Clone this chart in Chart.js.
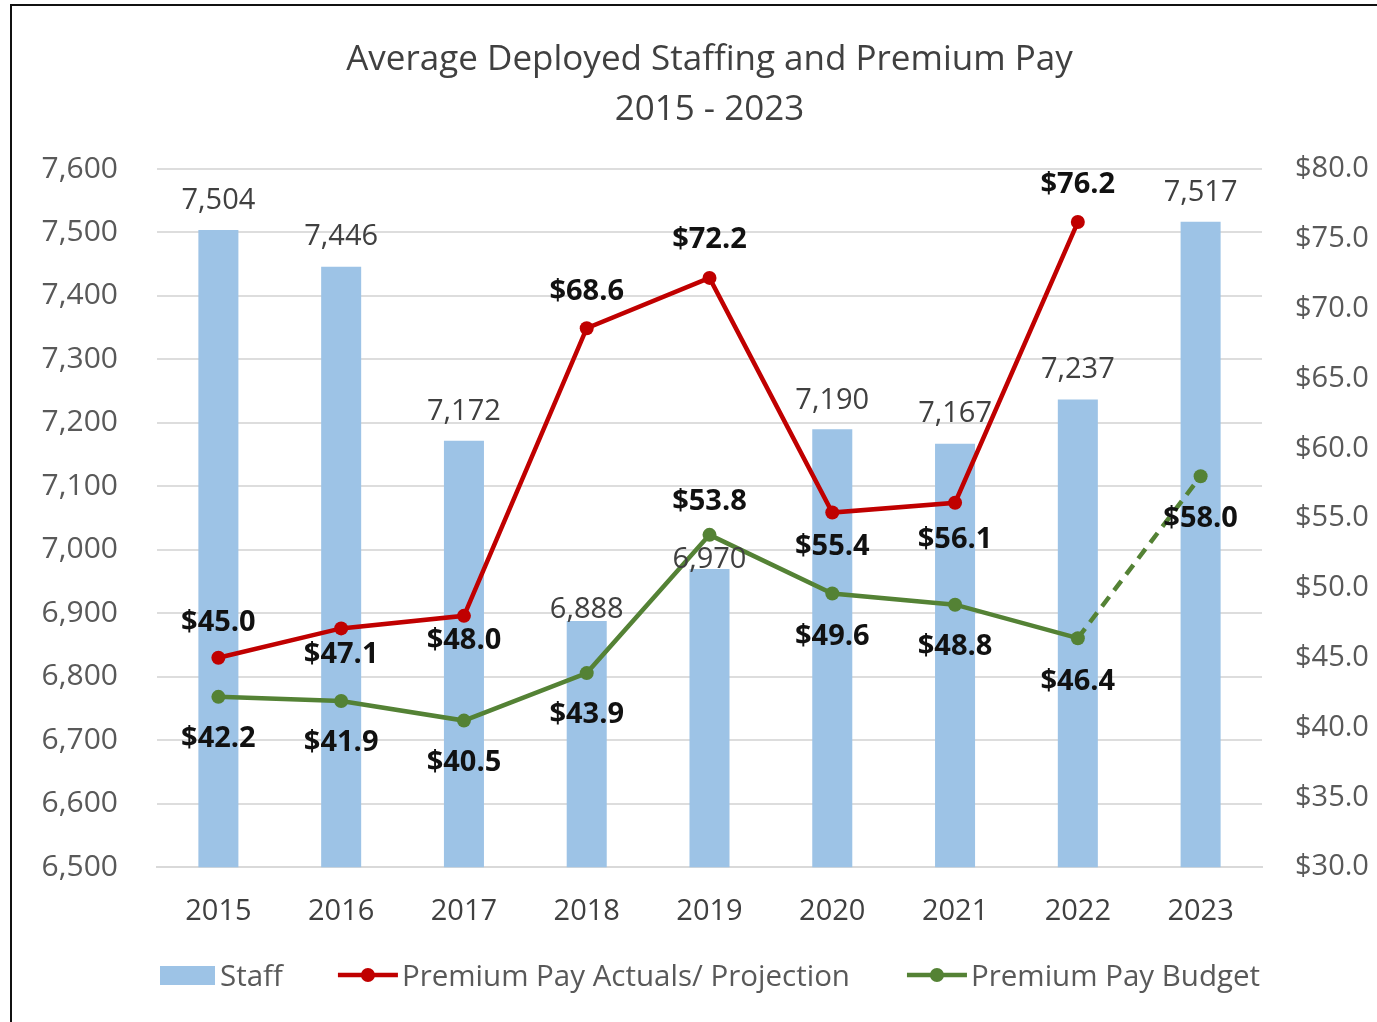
<!DOCTYPE html>
<html>
<head>
<meta charset="utf-8">
<title>Average Deployed Staffing and Premium Pay</title>
<script src="https://cdn.jsdelivr.net/npm/chart.js@4.4.0/dist/chart.umd.min.js"></script>
<style>
  html, body { margin: 0; padding: 0; background: #fff; overflow: hidden; }
  #wrap { position: relative; width: 1377px; height: 1022px; }
  #frame { position: absolute; left: 10px; top: 4px; width: 1400px; height: 1100px;
           border-left: 2px solid #111; border-top: 2px solid #111; }
  canvas { position: absolute; left: 0; top: 0; }
</style>
</head>
<body>
<div id="wrap">
  <canvas id="chart" width="1377" height="1022"></canvas>
  <div id="frame"></div>
</div>
<script>
// Data
const years = ['2015', '2016', '2017', '2018', '2019', '2020', '2021', '2022', '2023'];
const staff = [7504, 7446, 7172, 6888, 6970, 7190, 7167, 7237, 7517];
const premiumActuals = [45.0, 47.1, 48.0, 68.6, 72.2, 55.4, 56.1, 76.2, null];
const premiumBudget = [42.2, 41.9, 40.5, 43.9, 53.8, 49.6, 48.8, 46.4, 58.0];

// Axis ranges
const staffMin = 6500, staffMax = 7600, staffStep = 100;
const payMin = 30, payMax = 80, payStep = 5;

const FONT = "'Open Sans', 'Noto Sans', sans-serif";
const BLUE = '#9DC3E6';
const RED = '#C00000';
const GREEN = '#548235';

// label offsets (px, label centre relative to the mark) - matches hand-placed Excel labels
const staffLabelOffset = [-31, -32, -31, -13, -11, -31, -32, -32, -31];
const actualsLabelOffset = [-37, 24, 23, -39, -40, 32, 35, -39, 0];
const budgetLabelOffset = [40, 40, 40, 40, -35, 41, 40, 41, 40];

const fmtStaff = v => v.toLocaleString('en-US');
const fmtPay = v => '$' + v.toFixed(1);

// Draws value labels next to bars and points
const valueLabels = {
    id: 'valueLabels',
    afterDatasetsDraw(chart) {
        const ctx = chart.ctx;
        ctx.save();
        ctx.textAlign = 'center';
        ctx.textBaseline = 'alphabetic';
        chart.data.datasets.forEach((ds, i) => {
            const meta = chart.getDatasetMeta(i);
            ctx.font = ds.labelFont;
            ctx.fillStyle = ds.labelColor;
            meta.data.forEach((el, j) => {
                const v = ds.data[j];
                if (v == null) return;
                const cy = el.y + ds.labelOffsets[j];
                ctx.fillText(ds.labelFormat(v), el.x, cy + ds.labelSize * 0.357);
            });
        });
        ctx.restore();
    }
};

// Excel style legend row under the axis
const bottomLegend = {
    id: 'bottomLegend',
    afterDraw(chart) {
        const ctx = chart.ctx;
        const size = 29.5;
        const cy = 975;
        ctx.save();
        ctx.font = `${size}px ${FONT}`;
        ctx.fillStyle = '#595959';
        ctx.textBaseline = 'alphabetic';
        ctx.textAlign = 'left';
        let x = 160;

        ctx.fillStyle = BLUE;
        ctx.fillRect(x, cy - 9, 55, 19);
        x += 60;
        ctx.fillStyle = '#595959';
        ctx.fillText('Staff', x, cy + size * 0.357);
        x += ctx.measureText('Staff').width + 55;

        [[RED, 'Premium Pay Actuals/ Projection'], [GREEN, 'Premium Pay Budget']].forEach(([col, txt]) => {
            ctx.strokeStyle = col;
            ctx.fillStyle = col;
            ctx.lineWidth = 4.5;
            ctx.beginPath();
            ctx.moveTo(x, cy);
            ctx.lineTo(x + 60, cy);
            ctx.stroke();
            ctx.beginPath();
            ctx.arc(x + 30, cy, 7, 0, Math.PI * 2);
            ctx.fill();
            x += 64;
            ctx.fillStyle = '#595959';
            ctx.fillText(txt, x, cy + size * 0.357);
            x += ctx.measureText(txt).width + 57;
        });
        ctx.restore();
    }
};

const whiteBg = {
    id: 'whiteBg',
    beforeDraw(chart) {
        const ctx = chart.ctx;
        ctx.save();
        ctx.fillStyle = '#fff';
        ctx.fillRect(0, 0, chart.width, chart.height);
        ctx.restore();
    }
};

const ctx = document.getElementById('chart').getContext('2d');

const chart = new Chart(ctx, {
    type: 'bar',
    data: {
        labels: years,
        datasets: [
            {
                type: 'line',
                label: 'Premium Pay Actuals/ Projection',
                data: premiumActuals,
                yAxisID: 'y2',
                borderColor: RED,
                backgroundColor: RED,
                borderWidth: 4.5,
                pointRadius: 7,
                pointBackgroundColor: RED,
                pointBorderColor: RED,
                pointBorderWidth: 0,
                tension: 0,
                order: 1,
                labelOffsets: actualsLabelOffset,
                labelFont: `bold 29px ${FONT}`,
                labelSize: 29,
                labelColor: '#111',
                labelFormat: fmtPay
            },
            {
                type: 'line',
                label: 'Premium Pay Budget',
                data: premiumBudget,
                yAxisID: 'y2',
                borderColor: GREEN,
                backgroundColor: GREEN,
                borderWidth: 4.5,
                pointRadius: 7,
                pointBackgroundColor: GREEN,
                pointBorderColor: GREEN,
                pointBorderWidth: 0,
                tension: 0,
                order: 2,
                segment: {
                    borderDash: c => c.p1DataIndex === years.length - 1 ? [12, 8] : undefined
                },
                labelOffsets: budgetLabelOffset,
                labelFont: `bold 29px ${FONT}`,
                labelSize: 29,
                labelColor: '#111',
                labelFormat: fmtPay
            },
            {
                label: 'Staff',
                data: staff,
                yAxisID: 'y',
                backgroundColor: BLUE,
                borderWidth: 0,
                categoryPercentage: 1,
                barPercentage: 0.326,
                order: 3,
                labelOffsets: staffLabelOffset,
                labelFont: `29px ${FONT}`,
                labelSize: 29,
                labelColor: '#404040',
                labelFormat: fmtStaff
            }
        ]
    },
    options: {
        responsive: false,
        animation: false,
        layout: { padding: { left: 0, right: 0, top: 0, bottom: 66 } },
        plugins: {
            legend: { display: false },
            tooltip: { enabled: false },
            title: {
                display: true,
                fullSize: false,
                text: ['Average Deployed Staffing and Premium Pay', '2015 - 2023'],
                color: '#404040',
                font: { family: FONT, size: 35, weight: 'normal', lineHeight: 50 / 35 },
                padding: { top: 35, bottom: 34 }
            }
        },
        scales: {
            x: {
                grid: { display: false, drawTicks: false },
                border: { display: true, color: '#D9D9D9', width: 2 },
                ticks: { color: '#404040', font: { family: FONT, size: 29 }, padding: 27 }
            },
            y: {
                position: 'left',
                min: staffMin,
                max: staffMax,
                ticks: {
                    stepSize: staffStep,
                    color: '#595959',
                    font: { family: FONT, size: 30 },
                    padding: 39,
                    callback: v => fmtStaff(v)
                },
                grid: { color: '#DDDDDD', lineWidth: 2, drawTicks: false },
                border: { display: false },
                afterFit: s => { s.width = 157; }
            },
            y2: {
                position: 'right',
                min: payMin,
                max: payMax,
                ticks: {
                    stepSize: payStep,
                    color: '#595959',
                    font: { family: FONT, size: 29 },
                    padding: 33,
                    callback: v => fmtPay(v)
                },
                grid: { display: false, drawTicks: false },
                border: { display: false },
                afterFit: s => { s.width = 115; }
            }
        }
    },
    plugins: [whiteBg, valueLabels, bottomLegend]
});
</script>
</body>
</html>
